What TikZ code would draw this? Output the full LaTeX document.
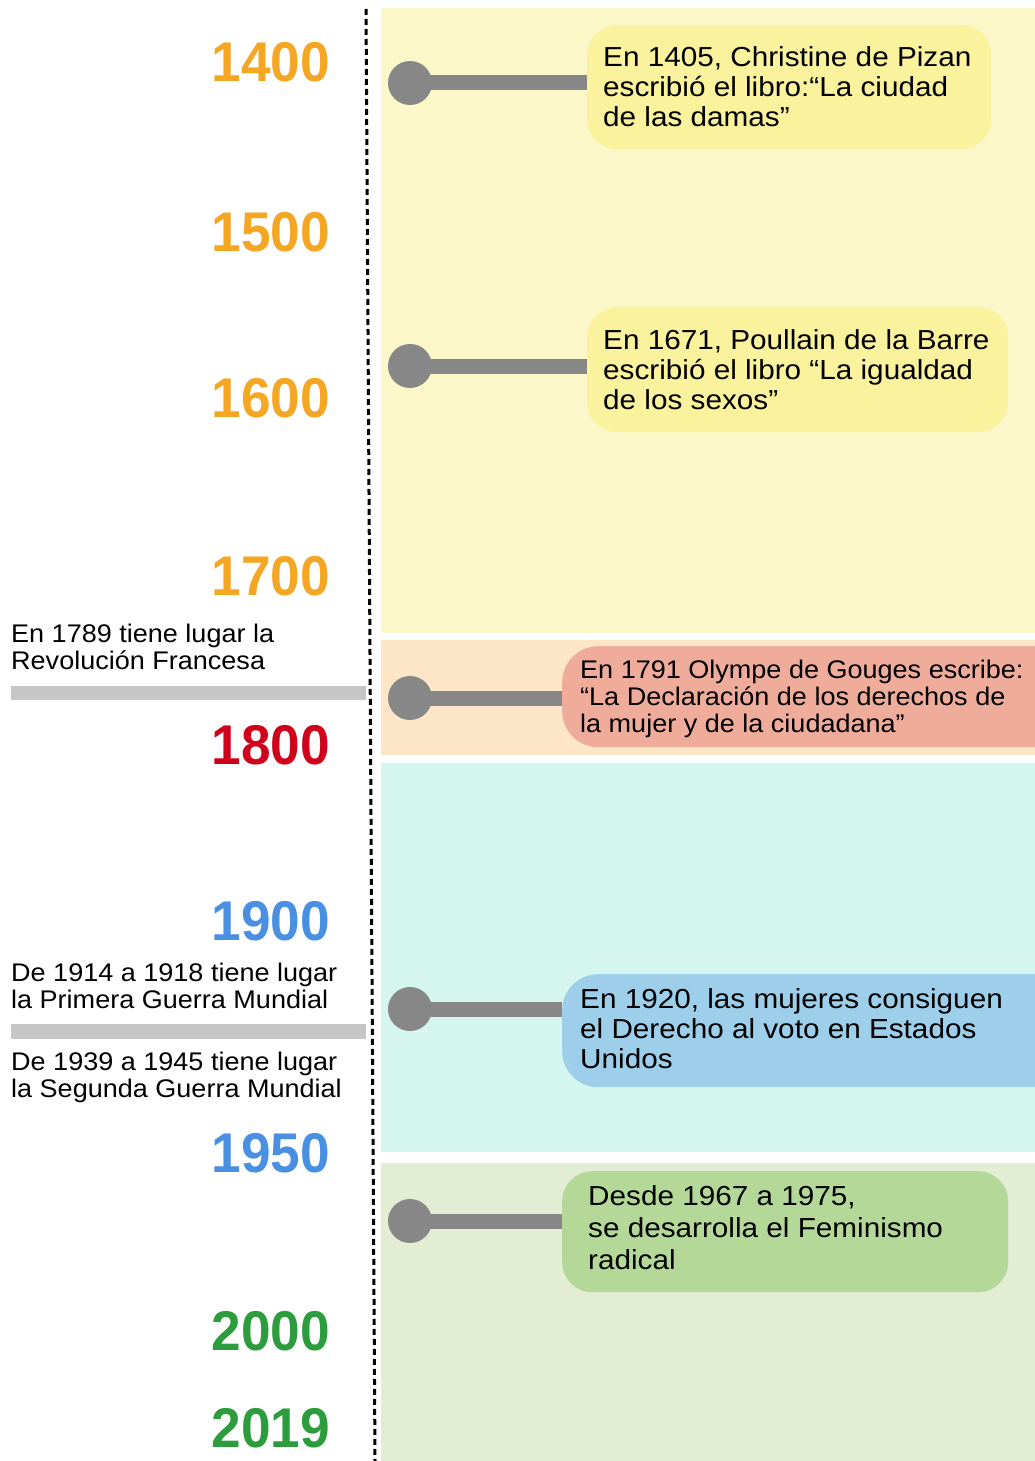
\documentclass[tikz,border=0pt]{standalone}
\usepackage{fontspec}
\setmainfont{Liberation Sans}
\usepackage{graphicx}
\definecolor{bgY}{HTML}{FBF7C8}
\definecolor{bxY}{HTML}{FAF29C}
\definecolor{bgP}{HTML}{FDE5C8}
\definecolor{bxP}{HTML}{F0AC9B}
\definecolor{bgM}{HTML}{D4F6EF}
\definecolor{bxB}{HTML}{9ECFEA}
\definecolor{bgG}{HTML}{E2EDD4}
\definecolor{bxG}{HTML}{B3D898}
\definecolor{pin}{HTML}{878787}
\definecolor{sepg}{HTML}{C6C6C6}
\definecolor{yOr}{HTML}{F5A623}
\definecolor{yRd}{HTML}{D0021B}
\definecolor{yBl}{HTML}{4A90E2}
\definecolor{yGn}{HTML}{2D9C3C}
\newcommand\ftxt[4]{\scalebox{#1}[1]{\fontsize{#2}{#3}\selectfont\begin{tabular}[t]{@{}l@{}}#4\end{tabular}}}
\newcommand\yr[1]{\scalebox{0.95}[1]{#1}}
\tikzset{
  evbox/.style={anchor=north west, inner sep=0pt, rounded corners=30pt},
  evtxt/.style={anchor=base west, inner sep=0pt, text=black},
  year/.style={anchor=east, inner sep=0pt, font=\fontsize{56}{56}\selectfont\bfseries},
  pinc/.style={circle, fill=pin, minimum size=44pt, inner sep=0pt},
  pinbar/.style={draw=pin, line width=15pt},
  sepbar/.style={fill=sepg},
}
\begin{document}
\begin{tikzpicture}[x=1pt,y=-1pt]
\useasboundingbox (0,0) rectangle (1035,1461);
\clip (0,0) rectangle (1035,1461);
% background bands
\fill[bgY] (381,8) rectangle (1035,633);
\fill[bgP] (381,640) rectangle (1035,755);
\fill[bgM] (381,763) rectangle (1035,1152);
\fill[bgG] (381,1163) rectangle (1035,1461);
% timeline axis
\coordinate (axTop) at (366,9);
\coordinate (axBot) at (375,1461);
\draw[line width=3pt, dash pattern=on 6pt off 4pt] (axTop) -- (axBot);
% left separators
\fill[sepbar] (11,686) rectangle (366,700);
\fill[sepbar] (11,1024) rectangle (366,1039);
% years
\node[year, text=yOr] (y1400) at (330,62) {\yr{1400}};
\node[year, text=yOr] (y1500) at (330,232) {\yr{1500}};
\node[year, text=yOr] (y1600) at (330,398) {\yr{1600}};
\node[year, text=yOr] (y1700) at (330,576) {\yr{1700}};
\node[year, text=yRd] (y1800) at (330,745) {\yr{1800}};
\node[year, text=yBl] (y1900) at (330,921) {\yr{1900}};
\node[year, text=yBl] (y1950) at (330,1153) {\yr{1950}};
\node[year, text=yGn] (y2000) at (330,1331) {\yr{2000}};
\node[year, text=yGn] (y2019) at (330,1428) {\yr{2019}};
% left labels
\node[evtxt] (l1) at (11,642) {\ftxt{1.06}{25.5}{27}{En 1789 tiene lugar la\\Revolución Francesa}};
\node[evtxt] (l2) at (11,981) {\ftxt{1.06}{25.5}{27}{De 1914 a 1918 tiene lugar\\la Primera Guerra Mundial}};
\node[evtxt] (l3) at (11,1070) {\ftxt{1.06}{25.5}{27}{De 1939 a 1945 tiene lugar\\la Segunda Guerra Mundial}};
% event boxes
\node[evbox, fill=bxY, minimum width=404pt, minimum height=124pt] (b1) at (587,25) {};
\node[evbox, fill=bxY, minimum width=421pt, minimum height=125pt] (b2) at (587,307) {};
\node[evbox, fill=bxP, minimum width=510pt, minimum height=101pt, rounded corners=36pt] (b3) at (562,646) {};
\node[evbox, fill=bxB, minimum width=510pt, minimum height=113pt, rounded corners=36pt] (b4) at (562,974) {};
\node[evbox, fill=bxG, minimum width=446pt, minimum height=121pt] (b5) at (562,1171) {};
% pins
\node[pinc] (c1) at (410,83) {};
\node[pinc] (c2) at (410,366) {};
\node[pinc] (c3) at (410,698) {};
\node[pinc] (c4) at (410,1009) {};
\node[pinc] (c5) at (410,1221) {};
\draw[pinbar] (c1.center) -- (c1.center -| b1.west);
\draw[pinbar] (c2.center) -- (c2.center -| b2.west);
\draw[pinbar] (c3.center) -- (c3.center -| b3.west);
\draw[pinbar] (c4.center) -- (c4.center -| b4.west);
\draw[pinbar] (c5.center) -- (c5.center -| b5.west);
% box texts
\node[evtxt] (t1) at (603,67) {\ftxt{1.08}{27.5}{30}{En 1405, Christine de Pizan\\escribió el libro:“La ciudad\\de las damas”}};
\node[evtxt] (t2) at (603,349) {\ftxt{1.08}{27.5}{30}{En 1671, Poullain de la Barre\\escribió el libro “La igualdad\\de los sexos”}};
\node[evtxt] (t3) at (580,678) {\ftxt{1.06}{25.5}{27}{En 1791 Olympe de Gouges escribe:\\“La Declaración de los derechos de\\la mujer y de la ciudadana”}};
\node[evtxt] (t4) at (580,1008) {\ftxt{1.08}{27.5}{30}{En 1920, las mujeres consiguen\\el Derecho al voto en Estados\\Unidos}};
\node[evtxt] (t5) at (588,1205) {\ftxt{1.08}{27.5}{32}{Desde 1967 a 1975,\\se desarrolla el Feminismo\\radical}};
\end{tikzpicture}
\end{document}
